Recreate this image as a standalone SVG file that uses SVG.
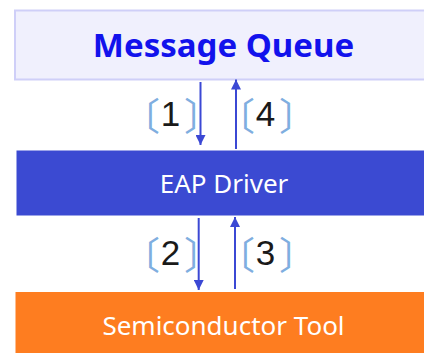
<svg xmlns="http://www.w3.org/2000/svg" width="424" height="353" viewBox="0 0 424 353">
<defs>
<marker id="ah" markerWidth="10" markerHeight="10" refX="10" refY="5" orient="auto" markerUnits="userSpaceOnUse">
<path d="M0,0 L10,5 L0,10 Z" fill="#3B48D4"/>
</marker>
<style>
.lbl{font-family:"Noto Sans","Liberation Sans",sans-serif;}
.br{font-family:"Noto Sans CJK SC",sans-serif;font-size:38px;fill:#7FAEE0;}
.rb{letter-spacing:-30px;}
.dg{font-family:"Liberation Sans",sans-serif;font-size:35px;fill:#1a1a1a;}
.conn{stroke:#3B48D4;stroke-width:2;fill:none;marker-end:url(#ah);}
</style>
</defs>
<rect width="424" height="353" fill="#ffffff"/>
<g id="message-queue">
<rect x="15" y="10.5" width="420" height="69" fill="#F0F0FD" stroke="#CFCFF8" stroke-width="2"/>
<text class="lbl" x="223.5" y="57" text-anchor="middle" font-size="33" font-weight="bold" fill="#1212EC">Message Queue</text>
</g>
<g id="eap-driver">
<rect x="16.5" y="150.5" width="420" height="65" fill="#3B4AD2"/>
<text class="lbl" x="224" y="193" text-anchor="middle" font-size="26" fill="#ffffff">EAP Driver</text>
</g>
<g id="semiconductor-tool">
<rect x="15.5" y="292" width="420" height="61" fill="#FE7D20"/>
<text class="lbl" x="223.5" y="335" text-anchor="middle" font-size="26" fill="#ffffff">Semiconductor Tool</text>
</g>
<g id="connectors">
<line class="conn" x1="200.5" y1="82" x2="200.5" y2="145"/>
<line class="conn" x1="236" y1="149" x2="236" y2="79.5"/>
<line class="conn" x1="198.7" y1="218" x2="198.7" y2="290"/>
<line class="conn" x1="235" y1="289" x2="235" y2="217"/>
</g>
<g id="labels">
<text><tspan class="br" x="122" y="130">〔</tspan><tspan class="dg" x="160.8" y="126">1</tspan><tspan class="br rb" x="184" y="130">〕</tspan></text>
<text><tspan class="br" x="217" y="130">〔</tspan><tspan class="dg" x="255.8" y="126">4</tspan><tspan class="br rb" x="279" y="130">〕</tspan></text>
<text><tspan class="br" x="122" y="269">〔</tspan><tspan class="dg" x="160.8" y="265">2</tspan><tspan class="br rb" x="184" y="269">〕</tspan></text>
<text><tspan class="br" x="217" y="269">〔</tspan><tspan class="dg" x="255.8" y="265">3</tspan><tspan class="br rb" x="279" y="269">〕</tspan></text>
</g>
</svg>
